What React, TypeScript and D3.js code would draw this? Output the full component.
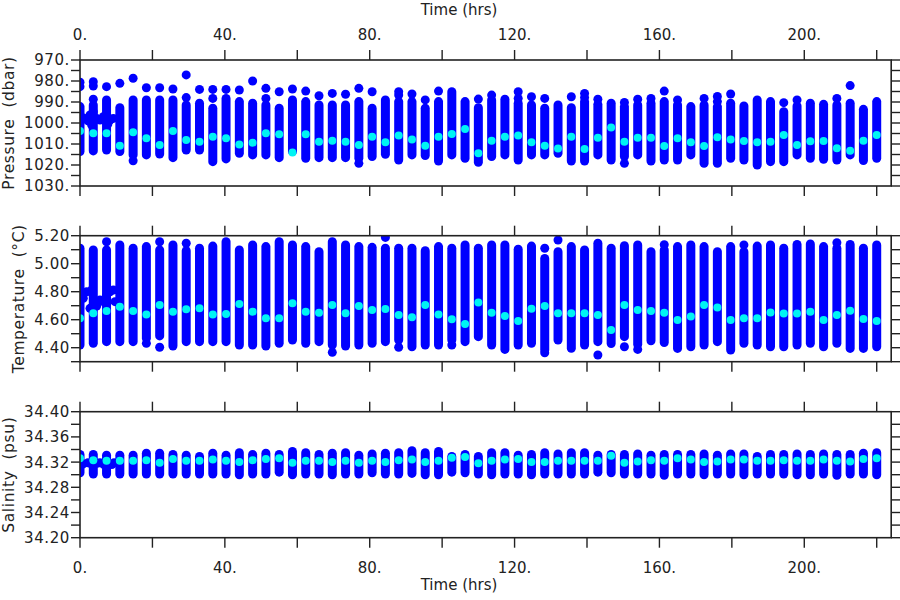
import React from 'react';
import * as d3 from 'd3';

// Profile times (hrs)
const times = [0, 3.67, 7.33, 11.0, 14.67, 18.33, 22.0, 25.67, 29.33, 33.0, 36.67, 40.33, 44.0, 47.67, 51.33, 55.0, 58.67, 62.33, 66.0, 69.67, 73.33, 77.0, 80.67, 84.33, 88.0, 91.67, 95.33, 99.0, 102.67, 106.33, 110.0, 113.67, 117.33, 121.0, 124.67, 128.33, 132.0, 135.67, 139.33, 143.0, 146.67, 150.33, 154.0, 157.67, 161.33, 165.0, 168.67, 172.33, 176.0, 179.67, 183.33, 187.0, 190.67, 194.33, 198.0, 201.67, 205.33, 209.0, 212.67, 216.33, 220.0];

// Pressure (dbar)
const presTop = [992.2, 991.4, 989, 992.7, 989, 989, 989, 989, 991.4, 990.6, 993, 988.3, 989.8, 990.6, 991.4, 993, 989, 989.8, 991.4, 991.4, 991.4, 989.8, 993, 989, 989.8, 989.8, 993, 989.8, 985.1, 989.8, 992.7, 989, 988.7, 990.6, 991.4, 993, 991.4, 992.7, 989.8, 991.1, 990.6, 992.2, 991.4, 990.6, 989.8, 991.4, 992.2, 991.4, 992.2, 990.6, 991.9, 989, 989.8, 994.6, 991.9, 990.6, 991.1, 991.4, 990.6, 993.5, 989.8];
const presBot = [1013.6, 1013.3, 1012.9, 1013.6, 1015.2, 1015.2, 1014.8, 1016.5, 1012.9, 1012.9, 1018.4, 1017.1, 1014.4, 1015.2, 1015.2, 1016.5, 1013.6, 1016.8, 1016.5, 1016.5, 1016.5, 1016.8, 1016, 1014.9, 1017.6, 1015.2, 1015.5, 1018.1, 1015.2, 1016.8, 1018.7, 1016, 1015.2, 1017.6, 1015.2, 1015.2, 1014.4, 1018.1, 1018.1, 1015.2, 1017.6, 1016, 1015.2, 1018.1, 1017.6, 1017.6, 1015.2, 1019.2, 1019.2, 1016.8, 1017.6, 1020, 1018.4, 1018.4, 1015.2, 1016.8, 1017.3, 1017.6, 1015.2, 1017.9, 1016.8];
const presCyan = [1003.8, 1004.9, 1004.9, 1010.8, 1004.4, 1007.3, 1010.5, 1003.8, 1008.1, 1008.9, 1006.5, 1007.3, 1010.2, 1009.4, 1004.9, 1005.4, 1014, 1005.4, 1008.9, 1008.4, 1008.9, 1010.5, 1006.5, 1009.2, 1006, 1007.8, 1010.8, 1006.5, 1005.2, 1002.9, 1014.4, 1008.4, 1006.5, 1006, 1009.2, 1010.8, 1012.1, 1006.5, 1012.4, 1007, 1002.1, 1008.9, 1007, 1007, 1010.9, 1007.3, 1009.2, 1011, 1006.8, 1007.8, 1008.6, 1009.2, 1008.9, 1005.7, 1010.5, 1008.7, 1008.6, 1012, 1013.2, 1008.4, 1005.7];
const presSingles: [number, number][] = [[0, 980.6], [0, 982.7], [1, 980.3], [1, 982.4], [1, 988.7], [2, 982.7], [3, 981.1], [4, 978.7], [4, 1018], [5, 983.2], [6, 983.2], [7, 983.8], [8, 977.1], [8, 987.9], [9, 984], [10, 984], [10, 988.3], [11, 984], [12, 984.3], [13, 980], [14, 983.5], [14, 988.3], [15, 985.1], [16, 983.8], [17, 984.8], [18, 987], [19, 985.9], [20, 986.3], [21, 983.5], [21, 1019.2], [22, 985.1], [24, 985.1], [24, 986.7], [25, 986.2], [26, 989], [27, 984.8], [30, 988.6], [31, 986.7], [33, 985.1], [33, 988.3], [34, 987.5], [35, 988.3], [37, 987.5], [38, 985.9], [38, 987.9], [39, 988.7], [41, 990.2], [41, 1019.2], [42, 988.7], [43, 988.3], [44, 984.8], [45, 989], [47, 988.3], [48, 987.4], [48, 989.8], [49, 986.2], [53, 990.3], [54, 989], [57, 988.3], [58, 982.2]];
const presCluster: [number, number][] = [[0.3, 997], [1.38, 997.8], [2.2, 999], [2.76, 996.2], [3.23, 1001], [3.67, 994.6], [4.61, 997.8], [5.52, 998.6], [6.43, 997], [7.37, 996.2], [7.7, 1000.5], [8.28, 998.6], [9.2, 997.8]];

// Temperature (°C)
const tempTop = [5.110, 5.098, 5.098, 5.134, 5.110, 5.122, 5.098, 5.134, 5.093, 5.110, 5.126, 5.157, 5.098, 5.134, 5.122, 5.157, 5.134, 5.122, 5.086, 5.157, 5.134, 5.122, 5.117, 5.110, 5.110, 5.110, 5.093, 5.122, 5.110, 5.134, 5.110, 5.134, 5.134, 5.103, 5.126, 5.038, 5.086, 5.122, 5.098, 5.146, 5.110, 5.128, 5.134, 5.086, 5.098, 5.122, 5.134, 5.122, 5.086, 5.122, 5.086, 5.126, 5.134, 5.110, 5.138, 5.141, 5.122, 5.110, 5.138, 5.110, 5.134];
const tempBot = [4.419, 4.431, 4.443, 4.443, 4.443, 4.467, 4.484, 4.412, 4.443, 4.443, 4.443, 4.443, 4.419, 4.419, 4.412, 4.431, 4.455, 4.431, 4.443, 4.419, 4.412, 4.419, 4.431, 4.443, 4.455, 4.407, 4.419, 4.419, 4.455, 4.443, 4.479, 4.419, 4.388, 4.419, 4.431, 4.384, 4.455, 4.396, 4.419, 4.443, 4.430, 4.479, 4.425, 4.450, 4.437, 4.395, 4.407, 4.419, 4.443, 4.383, 4.431, 4.419, 4.407, 4.407, 4.419, 4.431, 4.407, 4.431, 4.395, 4.395, 4.407];
const tempCyan = [4.610, 4.646, 4.662, 4.693, 4.662, 4.638, 4.705, 4.657, 4.674, 4.681, 4.638, 4.641, 4.712, 4.657, 4.610, 4.610, 4.717, 4.657, 4.650, 4.705, 4.646, 4.698, 4.669, 4.676, 4.634, 4.617, 4.705, 4.638, 4.603, 4.569, 4.722, 4.650, 4.627, 4.591, 4.679, 4.698, 4.646, 4.646, 4.646, 4.634, 4.526, 4.705, 4.669, 4.662, 4.650, 4.598, 4.622, 4.705, 4.688, 4.598, 4.610, 4.610, 4.652, 4.645, 4.645, 4.657, 4.598, 4.633, 4.664, 4.605, 4.591];
const tempSingles: [number, number][] = [[2, 5.157], [5, 4.431], [6, 5.157], [6, 4.403], [8, 5.146], [19, 4.367], [23, 5.188], [24, 4.403], [28, 4.419], [35, 5.110], [35, 4.364], [36, 5.169], [39, 4.348], [41, 4.407], [42, 4.388], [44, 5.136], [50, 5.134], [57, 5.150]];
const tempCluster: [number, number][] = [[0.91, 4.753], [1.85, 4.80], [2.76, 4.681], [3.23, 4.812], [4.6, 4.698], [5.52, 4.741], [6.44, 4.729], [7.37, 4.776], [8.28, 4.80], [9.2, 4.812], [9.66, 4.729]];

// Salinity (psu)
const salTop = [34.332, 34.332, 34.331, 34.331, 34.331, 34.334, 34.334, 34.332, 34.331, 34.329, 34.334, 34.331, 34.335, 34.332, 34.334, 34.332, 34.337, 34.335, 34.332, 34.334, 34.335, 34.331, 34.333, 34.334, 34.335, 34.338, 34.335, 34.337, 34.329, 34.332, 34.329, 34.335, 34.335, 34.331, 34.332, 34.335, 34.333, 34.335, 34.335, 34.331, 34.332, 34.332, 34.333, 34.331, 34.332, 34.332, 34.332, 34.333, 34.331, 34.333, 34.333, 34.329, 34.332, 34.332, 34.333, 34.332, 34.333, 34.332, 34.332, 34.334, 34.335];
const salBot = [34.303, 34.301, 34.301, 34.301, 34.301, 34.301, 34.301, 34.301, 34.301, 34.301, 34.301, 34.301, 34.300, 34.301, 34.301, 34.304, 34.300, 34.301, 34.301, 34.300, 34.301, 34.301, 34.303, 34.301, 34.301, 34.302, 34.300, 34.300, 34.304, 34.303, 34.301, 34.300, 34.301, 34.301, 34.300, 34.301, 34.301, 34.301, 34.301, 34.304, 34.303, 34.301, 34.301, 34.301, 34.299, 34.301, 34.301, 34.300, 34.301, 34.301, 34.300, 34.301, 34.301, 34.301, 34.300, 34.300, 34.301, 34.299, 34.301, 34.301, 34.300];
const salCyan = [34.326, 34.323, 34.322, 34.322, 34.322, 34.323, 34.319, 34.325, 34.322, 34.322, 34.324, 34.322, 34.320, 34.323, 34.325, 34.326, 34.319, 34.322, 34.322, 34.320, 34.322, 34.319, 34.322, 34.320, 34.323, 34.324, 34.320, 34.322, 34.327, 34.328, 34.318, 34.322, 34.324, 34.325, 34.320, 34.320, 34.322, 34.322, 34.322, 34.322, 34.330, 34.319, 34.321, 34.323, 34.322, 34.326, 34.324, 34.320, 34.321, 34.324, 34.324, 34.322, 34.322, 34.323, 34.322, 34.322, 34.324, 34.322, 34.321, 34.325, 34.326];
const salSingles: [number, number][] = [];
const salCluster: [number, number][] = [[0.8, 34.317], [2.2, 34.319], [3.3, 34.316], [4.7, 34.318], [5.5, 34.319], [6.6, 34.316], [7.7, 34.318], [8.8, 34.316], [9.4, 34.319]];

// Axis ticks / labels
const xLabelTicks = [0, 40, 80, 120, 160, 200];
const xMinorTicks = [0, 20, 40, 60, 80, 100, 120, 140, 160, 180, 200, 220];
const presLabels = [970, 980, 990, 1000, 1010, 1020, 1030];
const presMinor = [970, 975, 980, 985, 990, 995, 1000, 1005, 1010, 1015, 1020, 1025, 1030];
const tempLabels = [4.4, 4.6, 4.8, 5.0, 5.2];
const tempMinor = [4.3, 4.4, 4.5, 4.6, 4.7, 4.8, 4.9, 5.0, 5.1, 5.2];
const salLabels = [34.20, 34.24, 34.28, 34.32, 34.36, 34.40];
const salMinor = [34.20, 34.22, 34.24, 34.26, 34.28, 34.30, 34.32, 34.34, 34.36, 34.38, 34.40];

const BLUE = '#0000ff';
const CYAN = '#00f4f4';
const FRAME = '#222';
const FONT = "'DejaVu Sans', sans-serif";

const X_LEFT = 80;
const X_RIGHT = 891.2;
const PANEL_H = 126;

type Panel = {
  key: string;
  title: string;
  titleX: number;
  top: number;
  domain: [number, number];
  reversed: boolean;
  labels: number[];
  minor: number[];
  fmt: (v: number) => string;
  tops: number[];
  bots: number[];
  cyans: number[];
  singles: [number, number][];
  cluster: [number, number][];
};

const panels: Panel[] = [
  { key: 'p', title: 'Pressure\u00a0\u00a0(dbar)', titleX: 14, top: 60, domain: [970, 1030], reversed: true, labels: presLabels, minor: presMinor, fmt: (v) => `${v}.`, tops: presTop, bots: presBot, cyans: presCyan, singles: presSingles, cluster: presCluster },
  { key: 't', title: 'Temperature\u00a0\u00a0(\u00b0C)', titleX: 23.5, top: 235.7, domain: [4.3, 5.2], reversed: false, labels: tempLabels, minor: tempMinor, fmt: (v) => v.toFixed(2), tops: tempTop, bots: tempBot, cyans: tempCyan, singles: tempSingles, cluster: tempCluster },
  { key: 's', title: 'Salinity\u00a0\u00a0(psu)', titleX: 14, top: 411.7, domain: [34.2, 34.4], reversed: false, labels: salLabels, minor: salMinor, fmt: (v) => v.toFixed(2), tops: salTop, bots: salBot, cyans: salCyan, singles: salSingles, cluster: salCluster },
];

export default function App() {
  const x = d3.scaleLinear().domain([0, 224]).range([X_LEFT, X_RIGHT]);
  const R = 4.5;
  const RC = 4;

  return (
    <svg width={900} height={600} style={{ position: 'absolute', left: 0, top: 0, background: '#fff' }} fontFamily={FONT}>
      <rect x={0} y={0} width={900} height={600} fill="#fff" />
      <defs>
        {panels.map((p) => (
          <clipPath id={`clip-${p.key}`} key={p.key}>
            <rect x={X_LEFT} y={p.top} width={X_RIGHT - X_LEFT} height={PANEL_H} />
          </clipPath>
        ))}
      </defs>

      {/* top time axis */}
      <text x={459} y={15} fontSize={15} textAnchor="middle" fill="#222">Time (hrs)</text>
      {xLabelTicks.map((t) => (
        <text key={`tl${t}`} x={x(t)} y={40} fontSize={15} textAnchor="middle" fill="#222">{`${t}.`}</text>
      ))}
      {/* bottom time axis */}
      <text x={459} y={590} fontSize={15} textAnchor="middle" fill="#222">Time (hrs)</text>
      {xLabelTicks.map((t) => (
        <text key={`bl${t}`} x={x(t)} y={572.5} fontSize={15} textAnchor="middle" fill="#222">{`${t}.`}</text>
      ))}

      {panels.map((p) => {
        const bottom = p.top + PANEL_H;
        const y = d3.scaleLinear().domain(p.domain).range(p.reversed ? [p.top, bottom] : [bottom, p.top]);
        const cy = (p.top + bottom) / 2;
        return (
          <g key={p.key}>
            <g clipPath={`url(#clip-${p.key})`}>
              {times.map((t, i) => (
                <line key={`c${i}`} x1={x(t)} x2={x(t)} y1={y(p.tops[i])} y2={y(p.bots[i])} stroke={BLUE} strokeWidth={2 * R} strokeLinecap="round" />
              ))}
              {p.singles.map(([i, v], k) => (
                <circle key={`s${k}`} cx={x(times[i])} cy={y(v)} r={R} fill={BLUE} />
              ))}
              {p.cluster.map(([t, v], k) => (
                <circle key={`k${k}`} cx={x(t)} cy={y(v)} r={R} fill={BLUE} />
              ))}
              {times.map((t, i) => (
                <circle key={`cy${i}`} cx={x(t)} cy={y(p.cyans[i])} r={RC} fill={CYAN} />
              ))}
            </g>
            {/* frame */}
            <rect x={X_LEFT} y={p.top} width={X_RIGHT - X_LEFT} height={PANEL_H} fill="none" stroke={FRAME} strokeWidth={1.6} />
            {/* x ticks outward top and bottom */}
            {xMinorTicks.map((t) => (
              <g key={`xt${t}`}>
                <line x1={x(t)} x2={x(t)} y1={p.top} y2={p.top - 10} stroke={FRAME} strokeWidth={1.4} />
                <line x1={x(t)} x2={x(t)} y1={bottom} y2={bottom + 10} stroke={FRAME} strokeWidth={1.4} />
              </g>
            ))}
            {/* y ticks */}
            {p.minor.map((v) => (
              <g key={`yt${v}`}>
                <line x1={X_LEFT} x2={X_LEFT - 9} y1={y(v)} y2={y(v)} stroke={FRAME} strokeWidth={1.4} />
                <line x1={X_RIGHT} x2={X_RIGHT + 9} y1={y(v)} y2={y(v)} stroke={FRAME} strokeWidth={1.4} />
              </g>
            ))}
            {p.labels.map((v) => (
              <text key={`yl${v}`} x={70} y={y(v)} dy="0.36em" fontSize={15} textAnchor="end" fill="#222" letterSpacing={0.6}>{p.fmt(v)}</text>
            ))}
            <text transform={`translate(${p.titleX},${cy}) rotate(-90)`} fontSize={15.5} textAnchor="middle" fill="#222" letterSpacing={0.6}>{p.title}</text>
          </g>
        );
      })}
    </svg>
  );
}
